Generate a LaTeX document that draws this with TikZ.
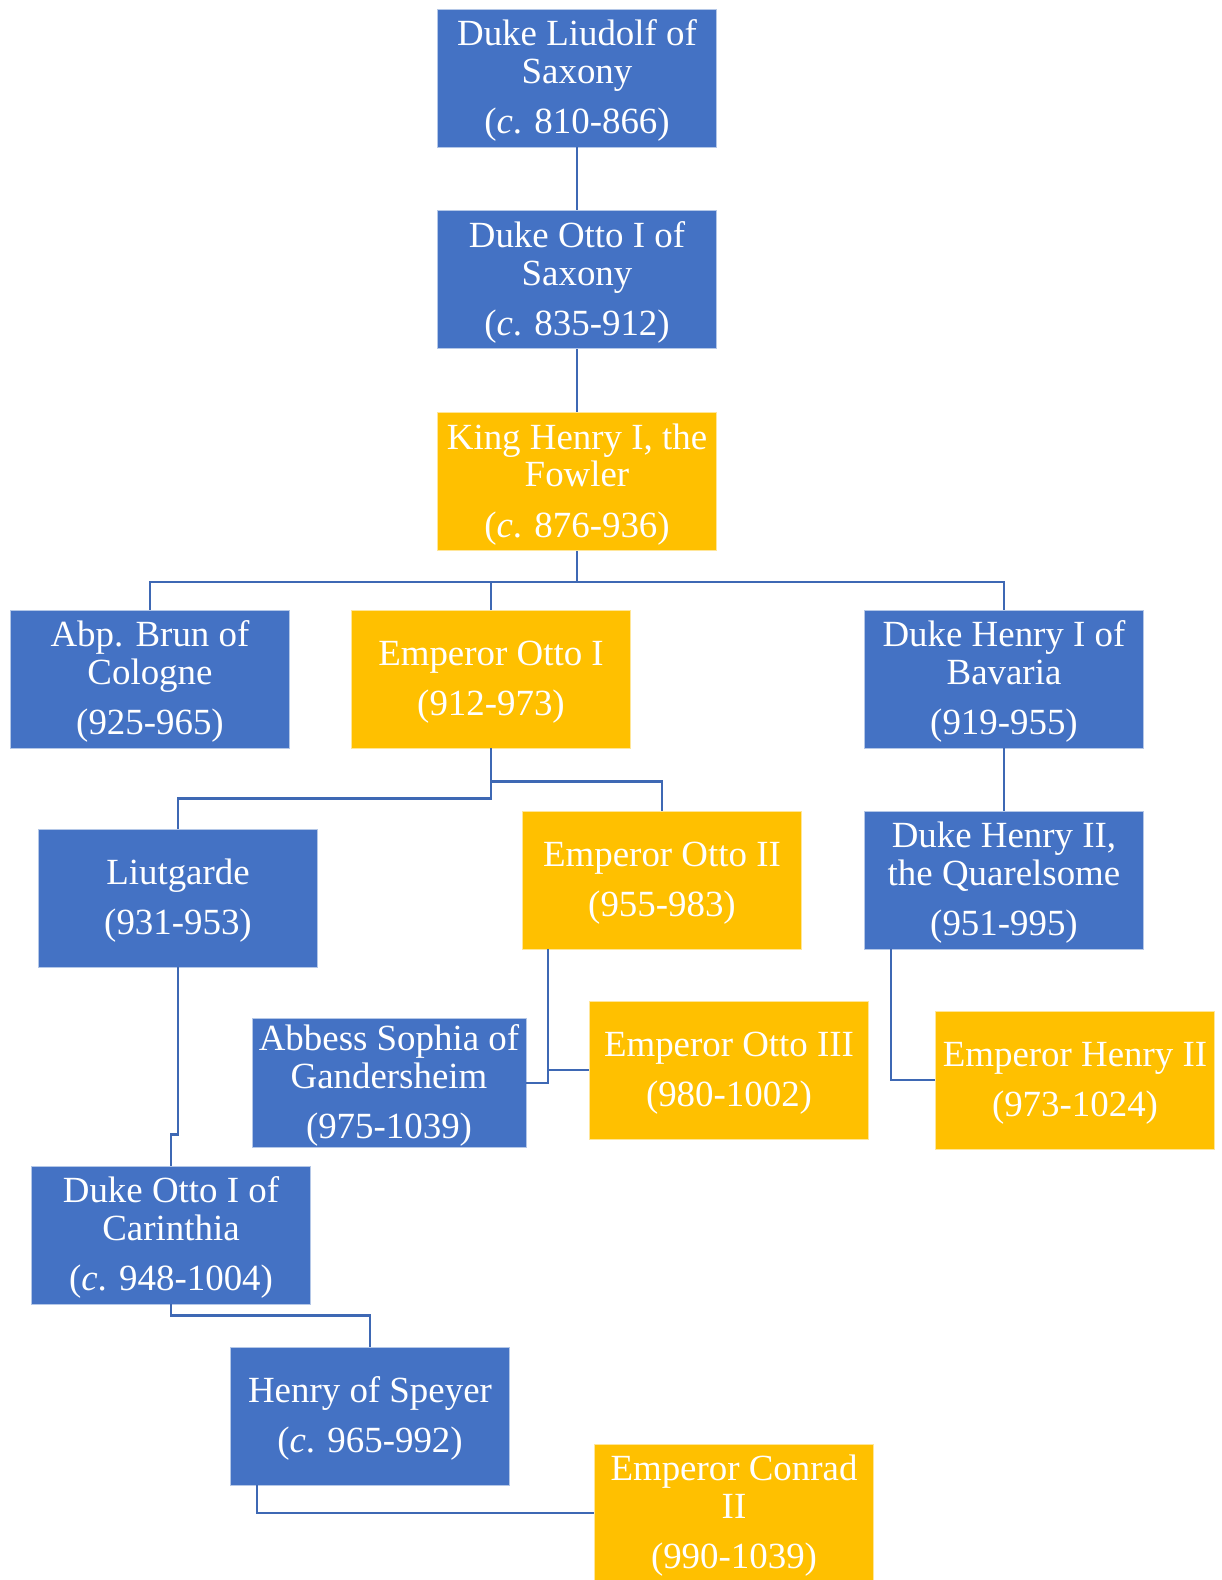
\documentclass[tikz,border=0pt]{standalone}
\usepackage{fontspec}
\setmainfont{Liberation Serif}
\usepackage{xcolor}
\usepackage{tikz}
\usetikzlibrary{positioning, calc}
\definecolor{houseblue}{RGB}{68, 114, 196}
\definecolor{crowngold}{RGB}{255, 192, 0}
\definecolor{lineblue}{RGB}{62, 104, 180}
\newcommand{\headroom}{\rule{0pt}{17.8pt}}

\begin{document}
\begin{tikzpicture}[
        x=0.02cm, y=-0.02cm,
        node distance=1.26cm,
        noble/.style={rectangle, draw=white!60!houseblue, line width=0.5pt, fill=houseblue, text=white, minimum width=5.58cm, minimum height=2.76cm, inner sep=0pt, align=center, font=\fontsize{21}{21.2}\selectfont},
        ruler/.style={noble, draw=white!60!crowngold, fill=crowngold},
        link/.style={draw=lineblue, line width=1.3pt},
    ]
        \useasboundingbox (0,0) rectangle (1222,1580);

        % line of the dukes of Saxony
        \node[noble] (liudolf) at (577,78) {\headroom Duke Liudolf of\\Saxony\\[7.4pt](\textit{c}. 810-866)};
        \node[noble, below=of liudolf] (ottosax) {\headroom Duke Otto I of\\Saxony\\[7.4pt](\textit{c}. 835-912)};
        \node[ruler, below=of ottosax] (fowler) {\headroom King Henry I, the\\Fowler\\[7.4pt](\textit{c}. 876-936)};

        % children of Henry the Fowler
        \node[noble] (brun) at (150,679) {\headroom Abp. Brun of\\Cologne\\[7.4pt](925-965)};
        \node[ruler] (ottoI) at (491,679) {\headroom Emperor Otto I\\[7.4pt](912-973)};
        \node[noble] (bavaria) at (1004,679) {\headroom Duke Henry I of\\Bavaria\\[7.4pt](919-955)};

        \node[noble] (liutgarde) at (178,898) {\headroom Liutgarde\\[7.4pt](931-953)};
        \node[ruler] (ottoII) at (662,880) {\headroom Emperor Otto II\\[7.4pt](955-983)};
        \node[noble] (quarrel) at (1004,880) {\headroom Duke Henry II,\\the Quarelsome\\[7.4pt](951-995)};

        \node[noble, minimum width=5.48cm, minimum height=2.58cm] (sophia) at (389,1083) {\headroom Abbess Sophia of\\Gandersheim\\[7.4pt](975-1039)};
        \node[ruler] (ottoIII) at (729,1070) {\headroom Emperor Otto III\\[7.4pt](980-1002)};
        \node[ruler] (henryII) at (1075,1080) {\headroom Emperor Henry II\\[7.4pt](973-1024)};

        \node[noble] (carinthia) at (171,1235) {\headroom Duke Otto I of\\Carinthia\\[7.4pt](\textit{c}. 948-1004)};
        \node[noble] (speyer) at (370,1416) {\headroom Henry of Speyer\\[7.4pt](\textit{c}. 965-992)};
        \node[ruler] (conrad) at (734,1513) {\headroom Emperor Conrad\\II\\[7.4pt](990-1039)};

        % junctions
        \coordinate (fowlerbus) at ([yshift=-0.62cm]fowler.south);
        \coordinate (ottobus) at ([yshift=-0.66cm]ottoI.south);
        \coordinate (liutbus) at ([yshift=-1cm]ottoI.south);
        \coordinate (ottoIIdrop) at ([xshift=0.52cm]ottoII.south west);
        \coordinate (quarreldrop) at ([xshift=0.54cm]quarrel.south west);
        \coordinate (liutdrop) at ([yshift=-3.34cm]liutgarde.south);
        \coordinate (carinbus) at ([yshift=-0.22cm]carinthia.south);
        \coordinate (speyerdrop) at ([xshift=0.54cm]speyer.south west);

        \draw[link] (liudolf) -- (ottosax);
        \draw[link] (ottosax) -- (fowler);
        \draw[link] (fowler.south) -- (fowlerbus) -| (brun.north);
        \draw[link] (fowlerbus) -| (ottoI.north);
        \draw[link] (fowlerbus) -| (bavaria.north);
        \draw[link] (ottoI.south) -- (liutbus) -| (liutgarde.north);
        \draw[link] (ottobus) -| (ottoII.north);
        \draw[link] (bavaria) -- (quarrel);
        \draw[link] (ottoIIdrop) |- (sophia.east);
        \draw[link] (ottoIIdrop |- ottoIII.west) -- (ottoIII.west);
        \draw[link] (quarreldrop) |- (henryII.west);
        \draw[link] (liutgarde.south) -- (liutdrop) -| (carinthia.north);
        \draw[link] (carinthia.south) -- (carinbus) -| (speyer.north);
        \draw[link] (speyerdrop) |- (conrad.west);
    \end{tikzpicture}
\end{document}
